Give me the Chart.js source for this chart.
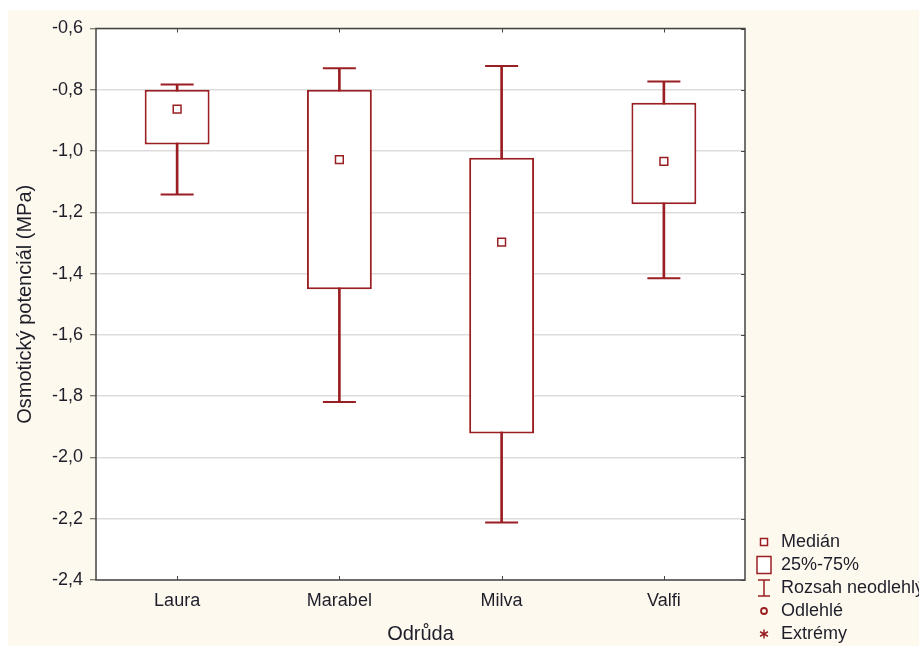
<!DOCTYPE html>
<html>
<head>
<meta charset="utf-8">
<script src="https://cdn.jsdelivr.net/npm/chart.js@4/dist/chart.umd.min.js"></script>
<style>
  html, body { margin: 0; padding: 0; background: #ffffff; }
  #wrap { position: absolute; left: 8px; top: 10px; width: 911px; height: 636px; background: #FEF9EE; overflow: hidden; }
  canvas { display: block; }
</style>
</head>
<body>
<div id="wrap"><canvas id="c" width="911" height="636"></canvas></div>
<script>
// ---- data ----
const categories = ['Laura', 'Marabel', 'Milva', 'Valfi'];
const whiskerMin = [-1.142, -1.819, -2.212, -1.415];
const q1         = [-0.979, -1.451, -1.922, -1.174];
const median     = [-0.863, -1.028, -1.297, -1.034];
const q3         = [-0.800, -0.800, -1.022, -0.842];
const whiskerMax = [-0.783, -0.730, -0.722, -0.773];
const legendLabels = ['Medián', '25%-75%', 'Rozsah neodlehlých', 'Odlehlé', 'Extrémy'];
const axisTitles = { x: 'Odrůda', y: 'Osmotický potenciál (MPa)' };

const RED = '#9a1f22';
const FONT = "'Liberation Sans', Arial, sans-serif";
const TEXT = '#1e1e2a';

function makeIcon(kind) {
  const c = document.createElement('canvas');
  c.width = 30; c.height = 22;
  const g = c.getContext('2d');
  g.translate(3, 0); // shift drawing right of the nominal centre
  g.strokeStyle = RED; g.fillStyle = '#ffffff'; g.lineWidth = 1.5;
  const cx = 15, cy = 11;
  if (kind === 'median') {
    g.fillRect(cx - 3.5, cy - 3.5, 7, 7); g.strokeRect(cx - 3.5, cy - 3.5, 7, 7);
  } else if (kind === 'box') {
    g.fillRect(cx - 7, cy - 8.5, 14, 17); g.strokeRect(cx - 7, cy - 8.5, 14, 17);
  } else if (kind === 'whisker') {
    g.beginPath();
    g.moveTo(cx - 6, cy - 8); g.lineTo(cx + 6, cy - 8);
    g.moveTo(cx, cy - 8); g.lineTo(cx, cy + 8);
    g.moveTo(cx - 6, cy + 8); g.lineTo(cx + 6, cy + 8);
    g.stroke();
  } else if (kind === 'circle') {
    g.lineWidth = 1.8;
    g.beginPath(); g.arc(cx, cy, 3, 0, Math.PI * 2); g.stroke();
  } else if (kind === 'star') {
    g.lineWidth = 1.5;
    g.beginPath();
    for (let i = 0; i < 3; i++) {
      const a = Math.PI / 2 + i * Math.PI / 3;
      g.moveTo(cx - 4.5 * Math.cos(a), cy - 4.5 * Math.sin(a));
      g.lineTo(cx + 4.5 * Math.cos(a), cy + 4.5 * Math.sin(a));
    }
    g.stroke();
  }
  return c;
}
const icons = ['median', 'box', 'whisker', 'circle', 'star'].map(makeIcon);

const framePlugin = {
  id: 'frame',
  afterLayout(chart) {
    if (chart.legend) { chart.legend.top += 2; chart.legend.bottom += 2; }
  },
  beforeDraw(chart) {
    const { ctx, chartArea: a } = chart;
    ctx.save();
    ctx.fillStyle = '#ffffff';
    ctx.fillRect(a.left, a.top, a.right - a.left, a.bottom - a.top);
    ctx.restore();
  },
  afterDatasetsDraw(chart) {
    const { ctx, chartArea: a, scales } = chart;
    ctx.save();
    ctx.strokeStyle = '#444444';
    ctx.lineWidth = 1.5;
    ctx.strokeRect(a.left, a.top, a.right - a.left, a.bottom - a.top);
    ctx.lineWidth = 1;
    ctx.beginPath();
    scales.x.ticks.forEach((t, i) => {
      const px = Math.round(scales.x.getPixelForTick(i)) + 0.5;
      ctx.moveTo(px, a.bottom); ctx.lineTo(px, a.bottom - 4);
      ctx.moveTo(px, a.top); ctx.lineTo(px, a.top + 4);
    });
    scales.y.ticks.forEach((t, i) => {
      const py = Math.round(scales.y.getPixelForTick(i)) + 0.5;
      ctx.moveTo(a.right, py); ctx.lineTo(a.right - 4, py);
    });
    ctx.stroke();
    ctx.restore();
  }
};

const floating = (lo, hi) => lo.map((v, i) => [v, hi[i]]);

new Chart(document.getElementById('c'), {
  data: {
    labels: categories,
    datasets: [
      {
        type: 'bar', label: 'whisker', data: floating(whiskerMin, whiskerMax),
        backgroundColor: RED, borderWidth: 0, barThickness: 2, grouped: false, order: 3
      },
      {
        type: 'bar', label: 'box', data: floating(q1, q3),
        backgroundColor: '#ffffff', borderColor: RED, borderWidth: 2, borderSkipped: false,
        barPercentage: 0.4, categoryPercentage: 1, grouped: false, order: 2
      },
      {
        type: 'line', label: 'capMax', data: whiskerMax, showLine: false,
        pointStyle: 'line', pointRadius: 16.5, pointHoverRadius: 16.5,
        pointBorderColor: RED, pointBorderWidth: 2, order: 1
      },
      {
        type: 'line', label: 'capMin', data: whiskerMin, showLine: false,
        pointStyle: 'line', pointRadius: 16.5, pointHoverRadius: 16.5,
        pointBorderColor: RED, pointBorderWidth: 2, order: 1
      },
      {
        type: 'line', label: 'median', data: median, showLine: false,
        pointStyle: 'rect', pointRadius: 5.5, pointHoverRadius: 5.5,
        pointBackgroundColor: '#ffffff', pointBorderColor: RED, pointBorderWidth: 1.5, order: 0
      }
    ]
  },
  options: {
    responsive: false,
    animation: false,
    devicePixelRatio: 1,
    layout: { padding: { top: 17, right: 0, bottom: 0, left: 0 } },
    plugins: {
      tooltip: { enabled: false },
      legend: {
        position: 'right',
        align: 'end',
        maxWidth: 174,
        onClick: null,
        labels: {
          usePointStyle: true,
          pointStyleWidth: 22,
          padding: 5,
          color: TEXT,
          font: { family: FONT, size: 18 },
          generateLabels: () => legendLabels.map((t, i) => ({
            text: t, pointStyle: icons[i], fillStyle: '#fff', strokeStyle: RED,
            lineWidth: 0, hidden: false, datasetIndex: 0, fontColor: TEXT
          }))
        }
      }
    },
    scales: {
      x: {
        type: 'category',
        grid: { display: true, drawOnChartArea: false, drawTicks: false },
        border: { display: false },
        ticks: { color: TEXT, font: { family: FONT, size: 18 }, padding: 10 },
        title: { display: true, text: axisTitles.x, color: TEXT, font: { family: FONT, size: 20 }, padding: { top: 0, bottom: 0 } },
        afterFit: s => { s.height = 66; }
      },
      y: {
        min: -2.4, max: -0.6,
        grid: { color: '#dddddd', lineWidth: 1.5, tickColor: '#555555', tickLength: 6, tickWidth: 1 },
        border: { display: false },
        ticks: {
          stepSize: 0.2, color: TEXT, font: { family: FONT, size: 18 }, padding: 7,
          callback: v => v.toFixed(1).replace('.', ',')
        },
        title: { display: true, text: axisTitles.y, color: TEXT, font: { family: FONT, size: 20 }, padding: { top: 5, bottom: 0 } },
        afterFit: s => { s.width = 88; }
      }
    }
  },
  plugins: [framePlugin]
});
</script>
</body>
</html>
